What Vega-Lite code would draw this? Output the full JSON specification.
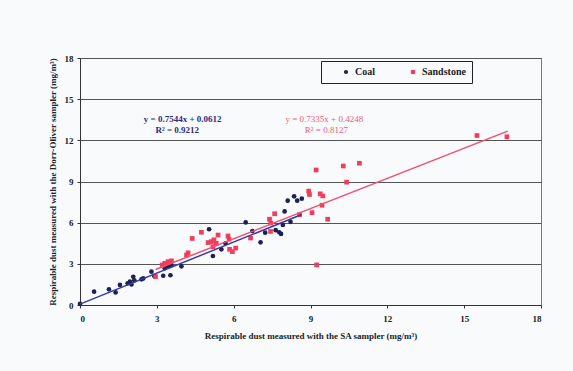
{
  "$schema": "https://vega.github.io/schema/vega-lite/v6.json",
  "width": 461,
  "height": 247,
  "autosize": {"type": "none"},
  "padding": {"left": 80, "top": 58, "right": 32, "bottom": 66},
  "background": "#f9fafc",
  "datasets": {
    "points": [
      {"material": "Coal", "sa": 0.0, "do": 0.08},
      {"material": "Coal", "sa": 0.55, "do": 0.97},
      {"material": "Coal", "sa": 1.13, "do": 1.14},
      {"material": "Coal", "sa": 1.39, "do": 0.92},
      {"material": "Coal", "sa": 1.56, "do": 1.46},
      {"material": "Coal", "sa": 1.86, "do": 1.58},
      {"material": "Coal", "sa": 1.95, "do": 1.7},
      {"material": "Coal", "sa": 2.01, "do": 1.5},
      {"material": "Coal", "sa": 2.08, "do": 2.06},
      {"material": "Coal", "sa": 2.12, "do": 1.8},
      {"material": "Coal", "sa": 2.4, "do": 1.87},
      {"material": "Coal", "sa": 2.47, "do": 1.94},
      {"material": "Coal", "sa": 2.79, "do": 2.43},
      {"material": "Coal", "sa": 2.9, "do": 2.11},
      {"material": "Coal", "sa": 3.25, "do": 2.13},
      {"material": "Coal", "sa": 3.53, "do": 2.17},
      {"material": "Coal", "sa": 3.31, "do": 2.67},
      {"material": "Coal", "sa": 3.44, "do": 2.8},
      {"material": "Coal", "sa": 3.57, "do": 2.9},
      {"material": "Coal", "sa": 3.96, "do": 2.82},
      {"material": "Coal", "sa": 5.04, "do": 5.52},
      {"material": "Coal", "sa": 5.19, "do": 3.57},
      {"material": "Coal", "sa": 5.52, "do": 4.06},
      {"material": "Coal", "sa": 5.68, "do": 4.5},
      {"material": "Coal", "sa": 6.47, "do": 6.02},
      {"material": "Coal", "sa": 6.73, "do": 5.39},
      {"material": "Coal", "sa": 7.05, "do": 4.57},
      {"material": "Coal", "sa": 7.23, "do": 5.27},
      {"material": "Coal", "sa": 7.64, "do": 5.45},
      {"material": "Coal", "sa": 7.78, "do": 5.3},
      {"material": "Coal", "sa": 7.85, "do": 5.18},
      {"material": "Coal", "sa": 7.92, "do": 5.83},
      {"material": "Coal", "sa": 7.99, "do": 6.82},
      {"material": "Coal", "sa": 8.11, "do": 7.6},
      {"material": "Coal", "sa": 8.22, "do": 6.06},
      {"material": "Coal", "sa": 8.36, "do": 7.92},
      {"material": "Coal", "sa": 8.48, "do": 7.6},
      {"material": "Coal", "sa": 8.66, "do": 7.75},
      {"material": "Sandstone", "sa": 2.95, "do": 2.07},
      {"material": "Sandstone", "sa": 3.21, "do": 2.92},
      {"material": "Sandstone", "sa": 3.31, "do": 3.04},
      {"material": "Sandstone", "sa": 3.44, "do": 3.16},
      {"material": "Sandstone", "sa": 3.57, "do": 3.22},
      {"material": "Sandstone", "sa": 4.16, "do": 3.64},
      {"material": "Sandstone", "sa": 4.22, "do": 3.8},
      {"material": "Sandstone", "sa": 4.38, "do": 4.85},
      {"material": "Sandstone", "sa": 4.74, "do": 5.3},
      {"material": "Sandstone", "sa": 5.0, "do": 4.55},
      {"material": "Sandstone", "sa": 5.13, "do": 4.62},
      {"material": "Sandstone", "sa": 5.23, "do": 4.75},
      {"material": "Sandstone", "sa": 5.32, "do": 4.5},
      {"material": "Sandstone", "sa": 5.39, "do": 5.1},
      {"material": "Sandstone", "sa": 5.19, "do": 4.25},
      {"material": "Sandstone", "sa": 5.78, "do": 5.03},
      {"material": "Sandstone", "sa": 5.82, "do": 4.79},
      {"material": "Sandstone", "sa": 5.84, "do": 4.06},
      {"material": "Sandstone", "sa": 5.95, "do": 3.89},
      {"material": "Sandstone", "sa": 6.08, "do": 4.15},
      {"material": "Sandstone", "sa": 6.66, "do": 4.88},
      {"material": "Sandstone", "sa": 7.4, "do": 6.25},
      {"material": "Sandstone", "sa": 7.45, "do": 5.97},
      {"material": "Sandstone", "sa": 7.44, "do": 5.36},
      {"material": "Sandstone", "sa": 7.6, "do": 6.65},
      {"material": "Sandstone", "sa": 8.57, "do": 6.58},
      {"material": "Sandstone", "sa": 8.93, "do": 8.3},
      {"material": "Sandstone", "sa": 8.96, "do": 8.05},
      {"material": "Sandstone", "sa": 9.06, "do": 6.73},
      {"material": "Sandstone", "sa": 9.22, "do": 9.84},
      {"material": "Sandstone", "sa": 9.24, "do": 2.92},
      {"material": "Sandstone", "sa": 9.38, "do": 8.1},
      {"material": "Sandstone", "sa": 9.48, "do": 7.95},
      {"material": "Sandstone", "sa": 9.45, "do": 7.27},
      {"material": "Sandstone", "sa": 9.67, "do": 6.25},
      {"material": "Sandstone", "sa": 10.28, "do": 10.13},
      {"material": "Sandstone", "sa": 10.41, "do": 8.95},
      {"material": "Sandstone", "sa": 10.91, "do": 10.33},
      {"material": "Sandstone", "sa": 15.5, "do": 12.35},
      {"material": "Sandstone", "sa": 16.67, "do": 12.26}
    ],
    "coalFit": [
      {"sa": 0, "do": 0.0612},
      {"sa": 8.66, "do": 6.594}
    ],
    "sandFit": [
      {"sa": 2.95, "do": 2.589},
      {"sa": 16.7, "do": 12.674}
    ],
    "coalEq": [
      {"sa": 4.01, "do": 13.56, "label": "y = 0.7544x + 0.0612"},
      {"sa": 3.8, "do": 12.75, "label": "R² = 0.9212"}
    ],
    "sandEq": [
      {"sa": 9.54, "do": 13.56, "label": "y = 0.7335x + 0.4248"},
      {"sa": 9.62, "do": 12.75, "label": "R² = 0.8127"}
    ]
  },
  "config": {
    "view": {"stroke": "#777777", "strokeWidth": 1},
    "font": "Liberation Serif",
    "legend": {
      "labelFont": "Liberation Serif",
      "labelFontWeight": "bold",
      "labelFontSize": 10,
      "labelColor": "#222222"
    },
    "axis": {
      "labelFont": "Liberation Serif",
      "labelFontWeight": "bold",
      "labelFontSize": 9,
      "labelColor": "#222222",
      "titleFont": "Liberation Serif",
      "titleFontWeight": "bold",
      "titleFontSize": 9,
      "titleColor": "#222222",
      "domainColor": "#333333",
      "tickColor": "#333333",
      "tickSize": 3
    }
  },
  "layer": [
    {
      "data": {"name": "points"},
      "mark": {"type": "point", "filled": true, "opacity": 1},
      "encoding": {
        "x": {
          "field": "sa", "type": "quantitative",
          "scale": {"domain": [0, 18], "nice": false},
          "axis": {
            "values": [0, 3, 6, 9, 12, 15, 18],
            "grid": false,
            "labelPadding": 6,
            "titlePadding": 8,
            "title": "Respirable dust measured with the SA sampler (mg/m³)"
          }
        },
        "y": {
          "field": "do", "type": "quantitative",
          "scale": {"domain": [0, 18], "nice": false},
          "axis": {
            "values": [0, 3, 6, 9, 12, 15, 18],
            "grid": true,
            "gridColor": "#555555",
            "gridWidth": 1,
            "gridOpacity": 1,
            "labelPadding": 4,
            "titlePadding": 7,
            "title": "Respirable dust measured with the Dorr-Oliver sampler (mg/m³)"
          }
        },
        "color": {
          "field": "material", "type": "nominal",
          "scale": {"domain": ["Coal", "Sandstone"], "range": ["#1d2050", "#f23c5c"]},
          "legend": {
            "title": null,
            "orient": "none",
            "legendX": 241,
            "legendY": 3,
            "direction": "horizontal",
            "strokeColor": "#222222",
            "fillColor": "#f9fafc",
            "padding": 6,
            "symbolOffset": 14,
            "symbolSize": 18,
            "labelOffset": 4,
            "columnPadding": 19,
            "labelFont": "Liberation Serif",
            "labelFontWeight": "bold",
            "labelFontSize": 10,
            "labelColor": "#222222",
            "labelExpr": "datum.label == 'Sandstone' ? 'Sandstone    ' : datum.label"
          }
        },
        "shape": {
          "field": "material", "type": "nominal",
          "scale": {"domain": ["Coal", "Sandstone"], "range": ["circle", "square"]}
        },
        "size": {"value": 22}
      }
    },
    {
      "data": {"name": "coalFit"},
      "mark": {"type": "line", "color": "#3a3aa6", "strokeWidth": 1.5},
      "encoding": {
        "x": {"field": "sa", "type": "quantitative"},
        "y": {"field": "do", "type": "quantitative"}
      }
    },
    {
      "data": {"name": "sandFit"},
      "mark": {"type": "line", "color": "#f0506c", "strokeWidth": 1.5},
      "encoding": {
        "x": {"field": "sa", "type": "quantitative"},
        "y": {"field": "do", "type": "quantitative"}
      }
    },
    {
      "data": {"name": "coalEq"},
      "mark": {"type": "text", "color": "#2c2c7c", "font": "Liberation Serif", "fontWeight": "bold", "fontSize": 9},
      "encoding": {
        "x": {"field": "sa", "type": "quantitative"},
        "y": {"field": "do", "type": "quantitative"},
        "text": {"field": "label"}
      }
    },
    {
      "data": {"name": "sandEq"},
      "mark": {"type": "text", "color": "#f25a78", "font": "Liberation Serif", "fontSize": 9},
      "encoding": {
        "x": {"field": "sa", "type": "quantitative"},
        "y": {"field": "do", "type": "quantitative"},
        "text": {"field": "label"}
      }
    }
  ]
}
